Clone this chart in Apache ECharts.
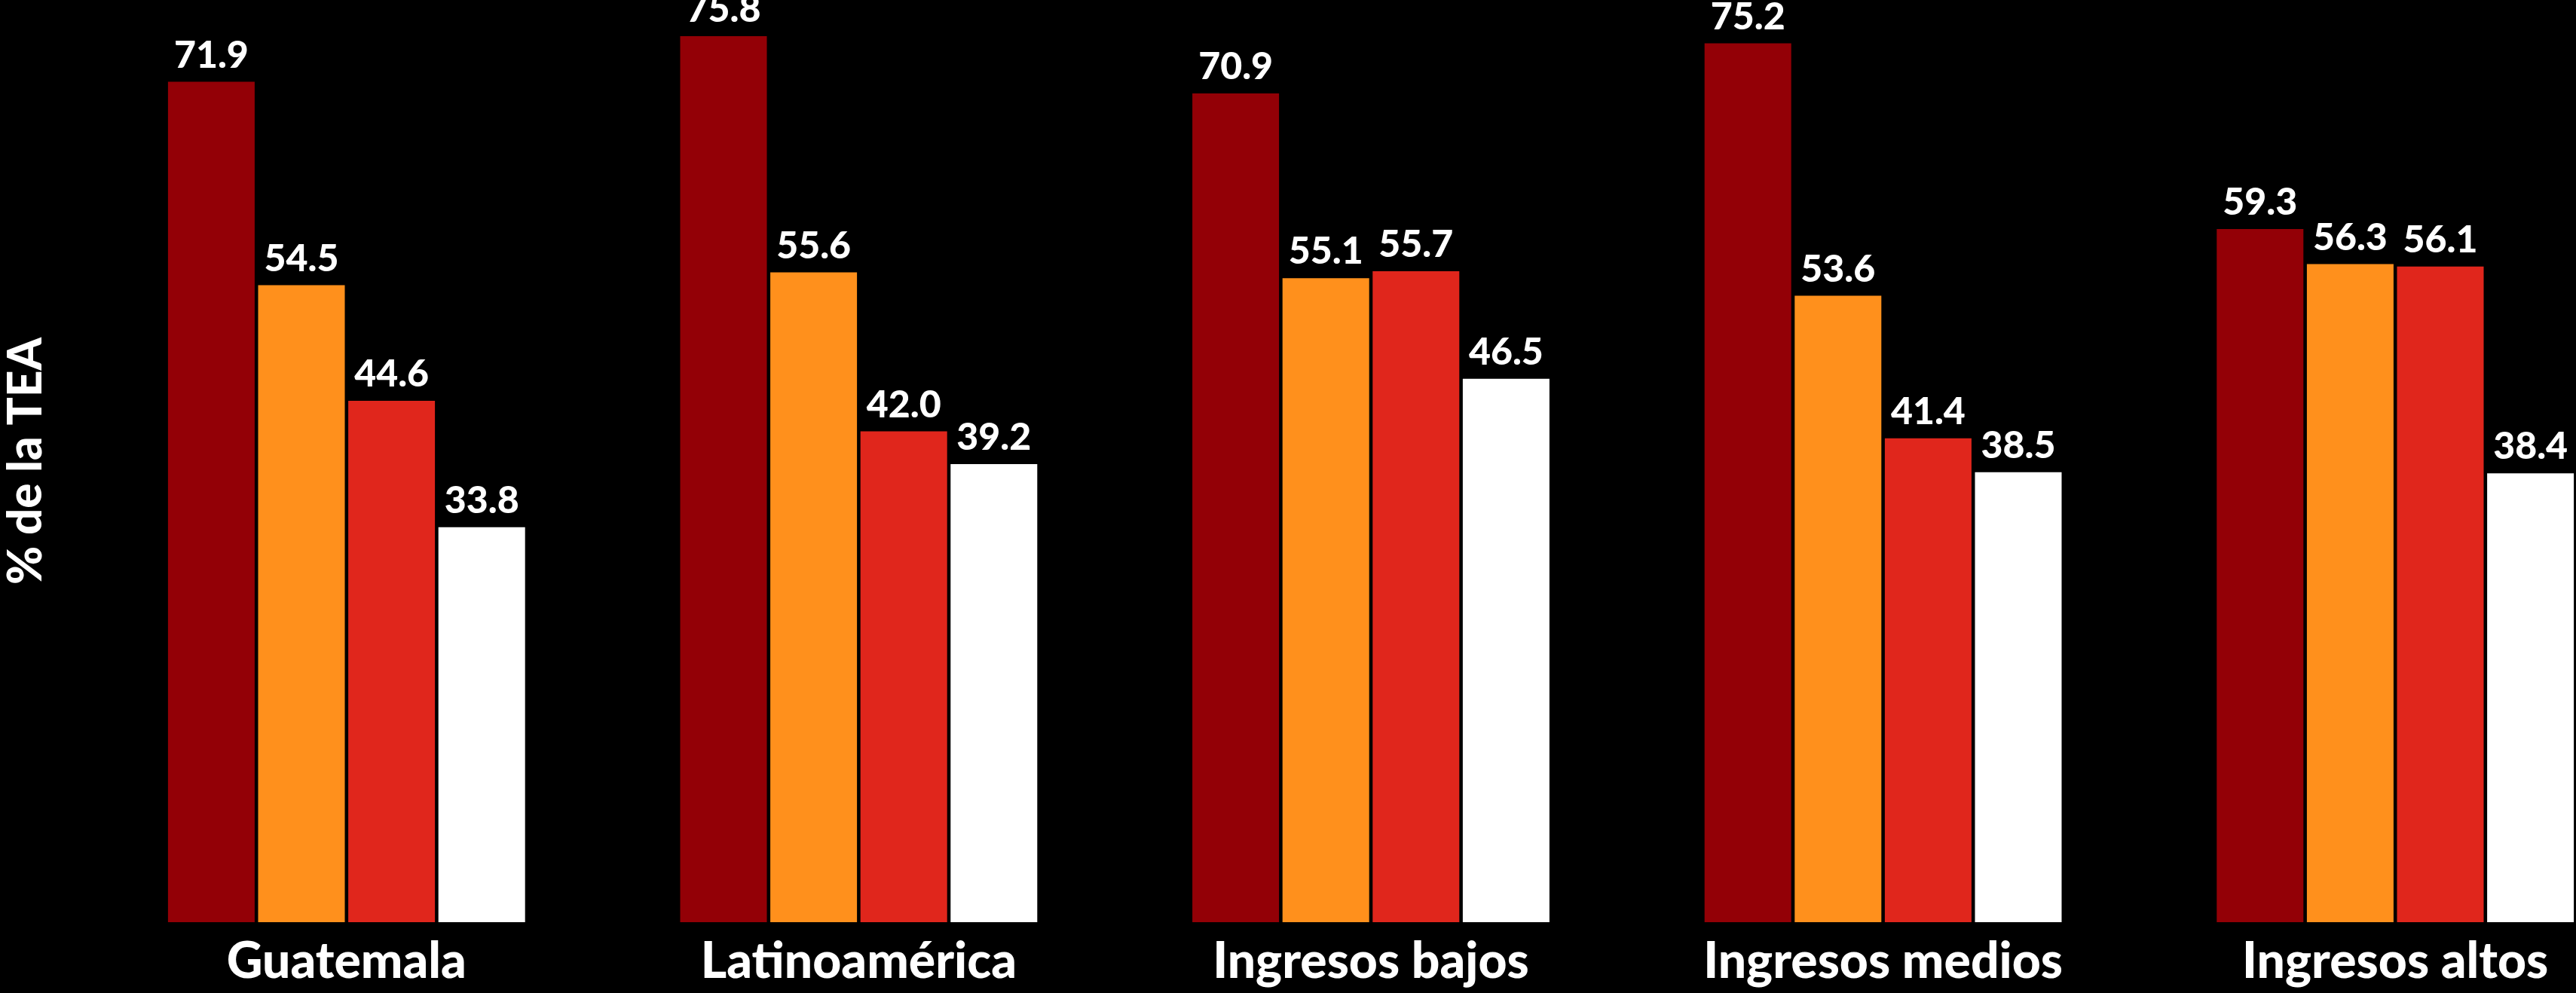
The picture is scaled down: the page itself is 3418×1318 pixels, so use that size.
<!DOCTYPE html>
<html>
<head>
<meta charset="utf-8">
<script src="https://cdn.jsdelivr.net/npm/echarts@6/dist/echarts.min.js"></script>
<style>
html,body{margin:0;padding:0;background:#000;}
#chart{width:3418px;height:1318px;}
</style>
</head>
<body>
<div id="chart"></div>
<script>
const categories = ['Guatemala', 'Latinoamérica', 'Ingresos bajos', 'Ingresos medios', 'Ingresos altos'];
const serie1 = [71.9, 75.8, 70.9, 75.2, 59.3];
const serie2 = [54.5, 55.6, 55.1, 53.6, 56.3];
const serie3 = [44.6, 42.0, 55.7, 41.4, 56.1];
const serie4 = [33.8, 39.2, 46.5, 38.5, 38.4];
const seriesNames = ['Serie 1', 'Serie 2', 'Serie 3', 'Serie 4'];
const colors = ['#930006', '#FF901C', '#E0261C', '#FFFFFF'];
const yAxisName = '% de la TEA';

const font = 'Lato';
const chart = echarts.init(document.getElementById('chart'));
const allData = [serie1, serie2, serie3, serie4];
chart.setOption({
  backgroundColor: '#000000',
  animation: false,
  grid: { left: 120, width: 3398, top: 0, bottom: 94, containLabel: false, outerBoundsMode: 'none' },
  xAxis: {
    type: 'category',
    data: categories,
    axisLine: { show: false },
    axisTick: { show: false },
    axisLabel: { color: '#ffffff', fontFamily: font, fontWeight: 900, fontSize: 66, margin: 20 }
  },
  yAxis: {
    type: 'value',
    min: 0,
    max: 78.9,
    name: yAxisName,
    nameLocation: 'middle',
    nameGap: 54,
    nameTextStyle: { color: '#ffffff', fontFamily: font, fontWeight: 900, fontSize: 62 },
    axisLine: { show: false },
    axisTick: { show: false },
    axisLabel: { show: false },
    splitLine: { show: false }
  },
  series: allData.map((d, i) => ({
    name: seriesNames[i],
    type: 'bar',
    data: d,
    barWidth: 115,
    barGap: '4%',
    itemStyle: { color: colors[i] },
    label: {
      show: true,
      position: 'top',
      distance: 10,
      color: '#ffffff',
      fontFamily: font,
      fontWeight: 900,
      fontSize: 50,
      formatter: p => p.value.toFixed(1)
    }
  }))
});
</script>
</body>
</html>
